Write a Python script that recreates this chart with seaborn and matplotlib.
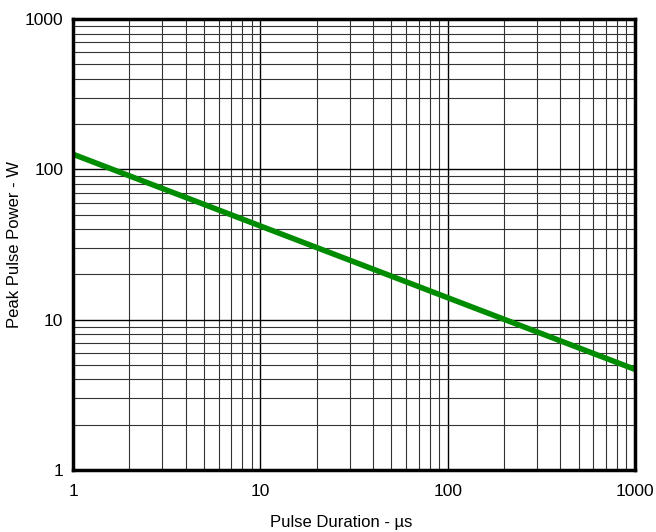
import numpy as np
import pandas as pd
import matplotlib
matplotlib.use("Agg")
import matplotlib.pyplot as plt
import seaborn as sns
from matplotlib.ticker import LogLocator, FixedLocator, NullFormatter

sns.set_theme(style="white")
plt.rcParams['font.family'] = ['Liberation Sans', 'DejaVu Sans']

# Data
pulse_duration_us = [1, 10, 100, 1000]
peak_power_w = [126, 42, 14, 4.67]
x_ticks = [1, 10, 100, 1000]
x_tick_labels = ["1", "10", "100", "1000"]
y_ticks = [1, 10, 100, 1000]
y_tick_labels = ["1", "10", "100", "1000"]

df = pd.DataFrame({"duration": pulse_duration_us, "power": peak_power_w})

fig = plt.figure(figsize=(6.56, 5.32), dpi=100)
ax = fig.add_axes([73/656, 1 - 470/532, (635 - 73)/656, (470 - 19)/532])

ax.set_xscale("log")
ax.set_yscale("log")
ax.set_xlim(1, 1000)
ax.set_ylim(1, 1000)

sns.lineplot(data=df, x="duration", y="power", ax=ax, color="#008c00",
             linewidth=4, zorder=5)

ax.xaxis.set_major_locator(FixedLocator(x_ticks))
ax.yaxis.set_major_locator(FixedLocator(y_ticks))
ax.set_xticklabels(x_tick_labels)
ax.set_yticklabels(y_tick_labels)
ax.xaxis.set_minor_locator(LogLocator(base=10, subs=np.arange(2, 10), numticks=20))
ax.yaxis.set_minor_locator(LogLocator(base=10, subs=np.arange(2, 10), numticks=20))
ax.xaxis.set_minor_formatter(NullFormatter())
ax.yaxis.set_minor_formatter(NullFormatter())

ax.grid(True, which="major", color="black", linewidth=1.0)
ax.grid(True, which="minor", color="#333333", linewidth=0.8)
ax.tick_params(which="both", length=0, labelsize=12.5, colors="black")
ax.tick_params(axis="x", pad=10)
ax.tick_params(axis="y", pad=7)

for s in ax.spines.values():
    s.set_color("black")
    s.set_linewidth(2.5)
    s.set_zorder(6)

ax.set_xlabel("Pulse Duration - µs", fontsize=12, color="black")
ax.set_ylabel("Peak Pulse Power - W", fontsize=12, color="black")
ax.xaxis.set_label_coords((341 - 73) / 562, -(523 - 470) / 451, transform=ax.transAxes)
ax.xaxis.label.set_va("center")
ax.yaxis.set_label_coords(-(73 - 15) / 562, 0.5, transform=ax.transAxes)
ax.yaxis.label.set_va("center")

fig.savefig("out.png", dpi=100)
